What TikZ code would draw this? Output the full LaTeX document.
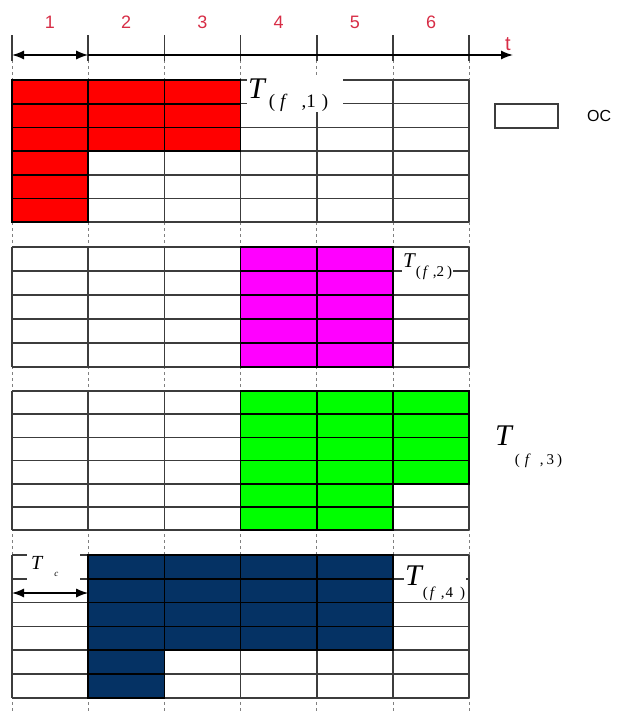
\documentclass[tikz,border=0pt]{standalone}
\usepackage{fontspec}
\newfontfamily\arialfont{Liberation Sans}
\newfontfamily\timesfont{Liberation Serif}
\usetikzlibrary{arrows.meta,positioning}
\definecolor{gridgray}{RGB}{60,60,60}
\definecolor{numred}{RGB}{215,45,70}
\definecolor{redcell}{RGB}{255,0,0}
\definecolor{magcell}{RGB}{255,0,255}
\definecolor{greencell}{RGB}{0,255,0}
\definecolor{navycell}{RGB}{5,50,100}
\newcommand{\fs}[1]{\fontsize{#1}{#1}\selectfont}
\tikzset{
  gridline/.style={gridgray,line width=1.5pt},
  guide/.style={gray,dashed,line width=0.8pt},
  cellbox/.style={draw=black,line width=1.7pt},
  numlabel/.style={numred,font=\arialfont\fs{18}},
  tlabel/.style={fill=white,inner sep=1pt,anchor=base west,font=\timesfont}
}

\begin{document}
\begin{tikzpicture}[x=1pt,y=-1pt,>={Latex[length=12pt,width=9pt]}]
  \useasboundingbox (0,0) rectangle (627,712);
  % dashed column guides
  \foreach \i in {0,...,6} \draw[guide] ({12+76.2*\i},60) -- ({12+76.2*\i},712);
  % time axis
  \foreach \i in {0,...,6} {
    \coordinate (c\i) at ({12+76.2*\i},55);
    \draw[gridline] ({12+76.2*\i},35) -- ({12+76.2*\i},61);
  }
  \foreach \k in {1,...,6} \node[numlabel] (n\k) at ({50+76.2*(\k-1)},22) {\k};
  \coordinate (tend) at (513,55);
  \draw[<->,line width=1.4pt] (c0) -- (c1);
  \draw[->,line width=1.4pt] (c1) -- (tend);
  \node[numlabel,font=\arialfont\fs{20}] (tlab) at (508,44) {t};
  % slot grids: top / rows / row height
  \foreach \top/\n/\h in {80/6/23.7, 247/5/24, 391/6/23.2, 555/6/23.8} {
    \foreach \r in {0,...,\n} \draw[gridline] (12,{\top+\h*\r}) -- (469.2,{\top+\h*\r});
    \foreach \i in {0,...,6} \draw[gridline] ({12+76.2*\i},\top) -- ({12+76.2*\i},{\top+\h*\n});
  }
  % occupied cells
  \foreach \i in {0,1,2} \foreach \r in {0,1,2}
    \draw[cellbox,fill=redcell] ({12+76.2*\i},{80+23.7*\r}) rectangle +(76.2,23.7);
  \foreach \r in {3,4,5} \draw[cellbox,fill=redcell] (12,{80+23.7*\r}) rectangle +(76.2,23.7);
  \foreach \i in {3,4} \foreach \r in {0,...,4}
    \draw[cellbox,fill=magcell] ({12+76.2*\i},{247+24*\r}) rectangle +(76.2,24);
  \foreach \i in {3,4,5} \foreach \r in {0,...,3}
    \draw[cellbox,fill=greencell] ({12+76.2*\i},{391+23.2*\r}) rectangle +(76.2,23.2);
  \foreach \i in {3,4} \foreach \r in {4,5}
    \draw[cellbox,fill=greencell] ({12+76.2*\i},{391+23.2*\r}) rectangle +(76.2,23.2);
  \foreach \i in {1,...,4} \foreach \r in {0,...,3}
    \draw[cellbox,fill=navycell] ({12+76.2*\i},{555+23.8*\r}) rectangle +(76.2,23.8);
  \foreach \r in {4,5} \draw[cellbox,fill=navycell] (88.2,{555+23.8*\r}) rectangle +(76.2,23.8);
  % frame labels
  \node[tlabel] (tf1) at (247,98)
    {\fs{30}\itshape T\hspace{4pt}\raisebox{-9pt}{\fs{19}\upshape(\hspace{5pt}\textit{f}\hspace{14pt},1\hspace{6pt})}\kern14pt};
  \node[tlabel] (tf2) at (402,267)
    {\fs{21}\itshape T\hspace{1pt}\raisebox{-9pt}{\fs{15}\upshape(\hspace{2pt}\textit{f}\hspace{4pt},2\hspace{3pt})}};
  \node[tlabel,fill=none] (tf3) at (494,445)
    {\fs{30}\itshape T\hspace{3pt}\raisebox{-19pt}{\fs{15}\upshape(\hspace{5pt}\textit{f}\hspace{9pt},\hspace{3pt}3\hspace{3pt})}};
  \node[tlabel] (tf4) at (404,585)
    {\fs{30}\itshape T\hspace{1pt}\raisebox{-12pt}{\fs{15}\upshape(\hspace{2pt}\textit{f}\hspace{5pt},\hspace{1pt}4\hspace{7pt})}};
  % slot length
  \node[fill=white,inner sep=0pt,anchor=north west,text width=53pt,minimum height=31pt,
        align=left,font=\timesfont] (tc) at (27,551)
    {\hspace{4pt}\raisebox{2pt}{\fs{20}\itshape T}\hspace{12pt}\raisebox{-5pt}{\fs{9}\itshape c}};
  \coordinate (tc0) at (12,593);
  \coordinate (tc1) at (88.2,593);
  \draw[<->,line width=1.4pt] (tc0) -- (tc1);
  % legend
  \node[draw=gridgray,line width=1.4pt,minimum width=63pt,minimum height=24pt] (ocbox) at (526.5,116) {};
  \node[font=\arialfont\fs{16},right=25pt of ocbox] (oclab) {OC};
\end{tikzpicture}
\end{document}
